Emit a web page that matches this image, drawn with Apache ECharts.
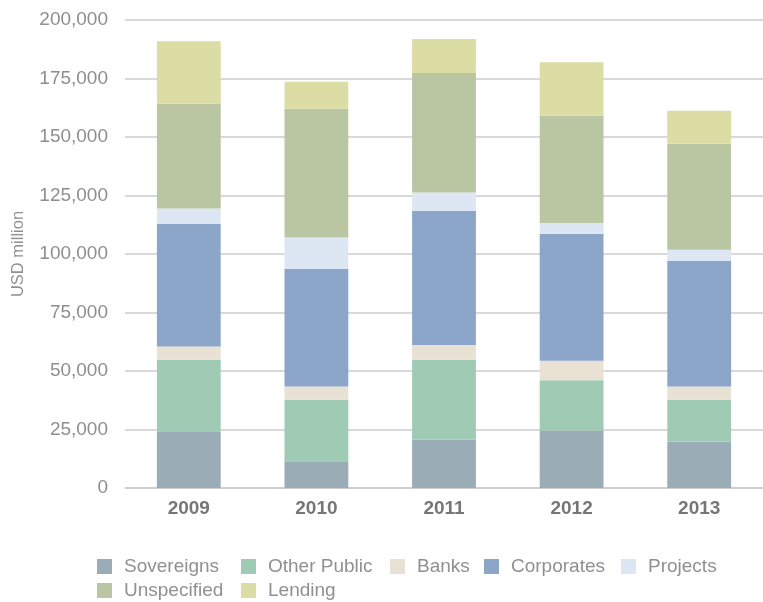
<!DOCTYPE html>
<html>
<head>
<meta charset="utf-8">
<script src="https://cdn.jsdelivr.net/npm/echarts@6/dist/echarts.min.js"></script>
<style>
html,body{margin:0;padding:0;background:#fff;}
#chart{width:763px;height:602px;}
</style>
</head>
<body>
<div id="chart"></div>
<script>
const years = ['2009', '2010', '2011', '2012', '2013'];
const sovereigns = [24200, 11400, 20600, 24600, 19900];
const otherPublic = [30600, 26300, 34200, 21400, 17800];
const banks = [5700, 5700, 6300, 8400, 5700];
const corporates = [52300, 50200, 57400, 54300, 53600];
const projects = [6600, 13500, 7800, 4500, 4800];
const unspecified = [44800, 55000, 51100, 45900, 45300];
const lending = [26700, 11500, 14500, 22800, 14100];
const seriesNames = ['Sovereigns', 'Other Public', 'Banks', 'Corporates', 'Projects', 'Unspecified', 'Lending'];
const seriesData = [sovereigns, otherPublic, banks, corporates, projects, unspecified, lending];
const colors = ['#9aacb6', '#9fcab4', '#e9e1d3', '#8ba6c9', '#dde6f3', '#bac5a1', '#dcdca5'];

const FONT = '"Liberation Sans", Arial, Helvetica, sans-serif';
const legendPos = [
  {left: 97, top: 557}, {left: 241, top: 557}, {left: 390, top: 557}, {left: 484, top: 557}, {left: 621, top: 557},
  {left: 97, top: 581}, {left: 241, top: 581}
];

const chart = echarts.init(document.getElementById('chart'));
chart.setOption({
  backgroundColor: '#ffffff',
  animation: false,
  color: colors,
  textStyle: {fontFamily: FONT},
  grid: {left: 125, top: 20, width: 643, height: 468},
  legend: seriesNames.map((n, i) => ({
    data: [n],
    left: legendPos[i].left,
    top: legendPos[i].top,
    padding: 0,
    itemWidth: 15,
    itemHeight: 15,
    itemStyle: {borderWidth: 0},
    icon: 'rect',
    selectedMode: false,
    textStyle: {fontFamily: FONT, fontSize: 19, color: '#909090', padding: [0, 0, 0, 7]}
  })),
  xAxis: {
    type: 'category',
    data: years,
    axisTick: {show: false},
    axisLine: {lineStyle: {color: '#cccccc', width: 1.5}},
    axisLabel: {fontFamily: FONT, fontSize: 19, fontWeight: 'bold', color: '#767676', margin: 11}
  },
  yAxis: {
    type: 'value',
    min: 0,
    max: 200000,
    interval: 25000,
    name: 'USD million',
    nameLocation: 'middle',
    nameRotate: 90,
    nameGap: 98,
    nameTextStyle: {fontFamily: FONT, fontSize: 16.5, color: '#909090'},
    axisLine: {show: false},
    axisTick: {show: false},
    splitLine: {lineStyle: {color: '#cccccc', width: 1.5}},
    axisLabel: {
      fontFamily: FONT, fontSize: 19, color: '#8e8e8e', margin: 17,
      formatter: v => v.toLocaleString('en-US')
    }
  },
  series: seriesNames.map((n, i) => ({
    name: n,
    type: 'bar',
    stack: 'total',
    barWidth: '50%',
    data: seriesData[i],
    itemStyle: {color: colors[i]}
  }))
});
</script>
</body>
</html>
